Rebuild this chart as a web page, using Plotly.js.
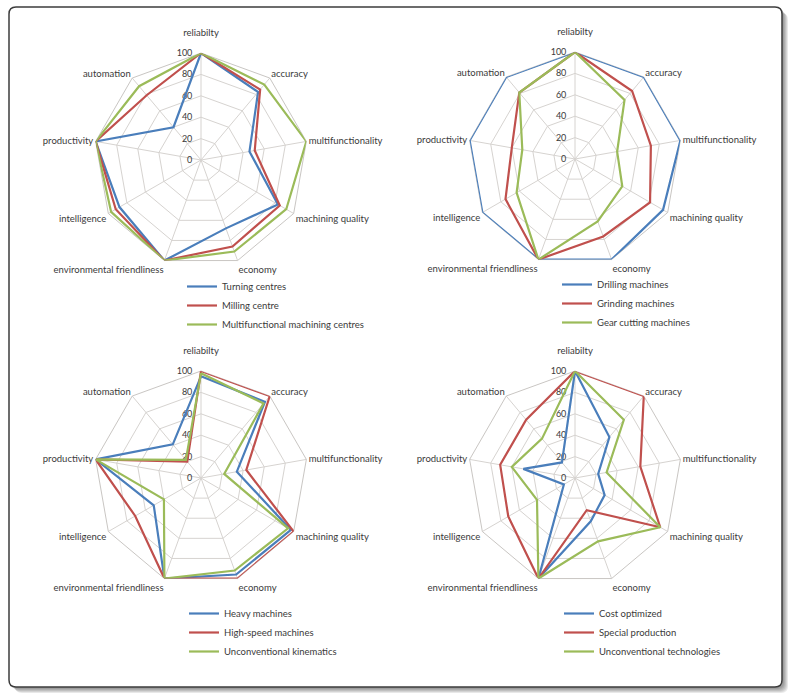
<!DOCTYPE html>
<html>
<head>
<meta charset="utf-8">
<script src="https://cdn.plot.ly/plotly-3.0.1.min.js"></script>
<style>html,body{margin:0;padding:0;background:#fff;}#chart{width:802px;height:695px;}</style>
</head>
<body>
<div id="chart"></div>
<script>
// ---- data ----
const categories = ["reliabilty","accuracy","multifunctionality","machining quality","economy","environmental friendliness","intelligence","productivity","automation"];
const radialTicks = [0,20,40,60,80,100];

// chart 1
const names1 = ["Turning centres","Milling centre","Multifunctional machining centres"];
const turningCentres      = [100, 83, 46, 83, 68, 100, 88, 100, 40];
const millingCentre       = [100, 86, 51, 85, 86, 100, 92, 100, 79];
const multifunctionalMC   = [100, 92, 100, 92, 91, 100, 97, 100, 90];

// chart 2
const names2 = ["Drilling machines","Grinding machines","Gear cutting machines"];
const drillingMachines    = [100, 100, 100, 95, 100, 100, 100, 100, 100];
const grindingMachines    = [100, 83, 72, 81, 77, 100, 75, 60, 81];
const gearCuttingMachines = [100, 72, 40, 51, 62, 100, 63, 50, 81];

// chart 3
const names3 = ["Heavy machines","High-speed machines","Unconventional kinematics"];
const heavyMachines       = [95, 93, 34, 97, 96, 100, 51, 100, 41];
const highSpeedMachines   = [100, 100, 43, 100, 100, 100, 71, 100, 20];
const unconvKinematics    = [98, 91, 22, 94, 92, 100, 40, 100, 22];

// chart 4
const names4 = ["Cost optimized","Special production","Unconventional technologies"];
const costOptimized       = [100, 50, 22, 32, 43, 100, 12, 49, 19];
const specialProduction   = [100, 100, 62, 92, 32, 100, 72, 71, 71];
const unconvTechnologies  = [100, 71, 30, 92, 63, 100, 41, 60, 48];

// ---- styling ----
const W = 802, H = 695;
const colors = ["#4a7ebb", "#c0504d", "#9bbb59"];
const FONT = "Lato, 'Open Sans', sans-serif";
const TXT = "#3a3a3a";

function closed(a){ return a.concat([a[0]]); }

const groups = [
  {names: names1, series: [turningCentres, millingCentre, multifunctionalMC], polar: "polar",  legend: "legend"},
  {names: names2, series: [drillingMachines, grindingMachines, gearCuttingMachines], polar: "polar2", legend: "legend2"},
  {names: names3, series: [heavyMachines, highSpeedMachines, unconvKinematics], polar: "polar3", legend: "legend3"},
  {names: names4, series: [costOptimized, specialProduction, unconvTechnologies], polar: "polar4", legend: "legend4"}
];

const traces = [];
groups.forEach(g => {
  g.series.forEach((vals, i) => {
    traces.push({
      type: "scatterpolar", mode: "lines",
      r: closed(vals), theta: closed(categories),
      name: g.names[i], subplot: g.polar, legend: g.legend,
      cliponaxis: false,
      line: {color: colors[i], width: 2.2}, hoverinfo: "skip"
    });
  });
});

// top label lifted a little (extra blank line), others unchanged
const angTickText = categories.map((c, i) => i === 0 ? c + "<br> " : c);

function polarLayout(cx, cy, R){
  return {
    domain: {x: [(cx-R)/W, (cx+R)/W], y: [1-(cy+R)/H, 1-(cy-R)/H]},
    gridshape: "linear",
    bgcolor: "rgba(0,0,0,0)",
    angularaxis: {
      direction: "clockwise", rotation: 90,
      categoryarray: categories, categoryorder: "array",
      tickmode: "array", tickvals: categories, ticktext: angTickText,
      showline: true, linecolor: "#c9c6c3", linewidth: 1, layer: "below traces",
      gridcolor: "#d6d3d0", gridwidth: 1, ticks: "",
      tickfont: {family: FONT, size: 9.5, color: TXT}
    },
    radialaxis: {
      range: [0, 100], tickvals: radialTicks, angle: 90, side: "counterclockwise",
      showline: false, ticks: "outside", ticklen: 5, tickcolor: "rgba(0,0,0,0)",
      gridcolor: "#d6d3d0", gridwidth: 1, layer: "below traces",
      tickfont: {family: FONT, size: 9, color: TXT}, tickangle: 90
    }
  };
}

function legendAt(px, py){
  return {x: px/W, y: 1-py/H, xanchor: "left", yanchor: "top",
    font: {family: FONT, size: 9.5, color: TXT}, bgcolor: "rgba(0,0,0,0)",
    itemwidth: 30, tracegroupgap: 0};
}

// rounded frame
function X(p){ return p/W; }
function Y(p){ return 1-p/H; }
function rrect(x0,y0,x1,y1,r){
  return `M ${X(x0+r)} ${Y(y0)} L ${X(x1-r)} ${Y(y0)} Q ${X(x1)} ${Y(y0)} ${X(x1)} ${Y(y0+r)} ` +
         `L ${X(x1)} ${Y(y1-r)} Q ${X(x1)} ${Y(y1)} ${X(x1-r)} ${Y(y1)} ` +
         `L ${X(x0+r)} ${Y(y1)} Q ${X(x0)} ${Y(y1)} ${X(x0)} ${Y(y1-r)} ` +
         `L ${X(x0)} ${Y(y0+r)} Q ${X(x0)} ${Y(y0)} ${X(x0+r)} ${Y(y0)} Z`;
}
const shapes = [];
[6,5,4,3,2].forEach(o => {
  shapes.push({type: "path", xref: "paper", yref: "paper", layer: "below",
    path: rrect(9+o, 7+o, 782+o, 687+o, 7), fillcolor: "rgba(0,0,0,0.09)", line: {width: 0}});
});
shapes.push({type: "path", xref: "paper", yref: "paper", layer: "below",
  path: rrect(9, 7, 782, 687, 7), fillcolor: "#ffffff", line: {color: "#3c3c3c", width: 1.5}});

const layout = {
  width: W, height: H, margin: {l: 0, r: 0, t: 0, b: 0},
  paper_bgcolor: "#ffffff", plot_bgcolor: "#ffffff",
  showlegend: true,
  polar:  polarLayout(201, 160, 107),
  polar2: polarLayout(575, 159, 107),
  polar3: polarLayout(201, 478, 107),
  polar4: polarLayout(575, 478, 107),
  legend:  legendAt(182, 272),
  legend2: legendAt(557, 270),
  legend3: legendAt(184, 599),
  legend4: legendAt(559, 599),
  shapes: shapes
};

Plotly.newPlot("chart", traces, layout, {displayModeBar: false, staticPlot: true});
</script>
</body>
</html>
